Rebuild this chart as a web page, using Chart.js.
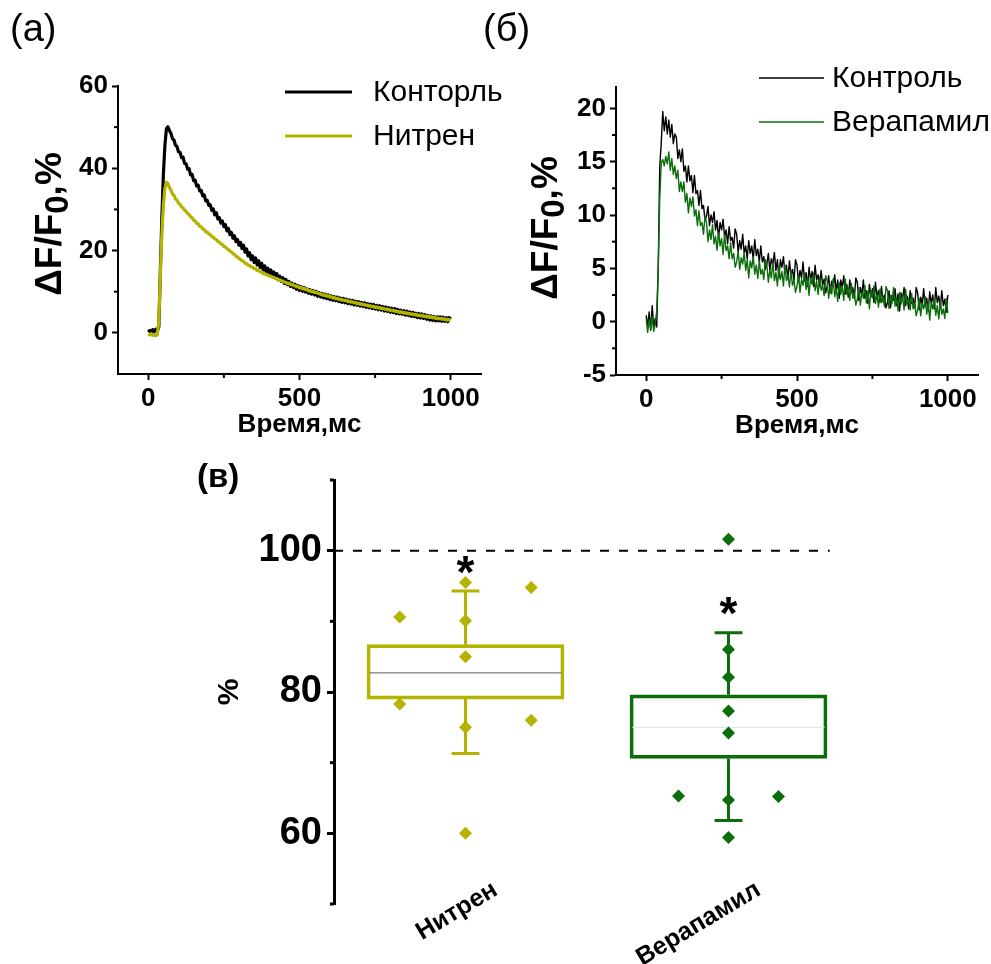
<!DOCTYPE html>
<html lang="ru">
<head>
<meta charset="utf-8">
<title>ΔF/F0: Нитрен, Верапамил</title>
<script src="https://cdn.jsdelivr.net/npm/chart.js@4.4.1/dist/chart.umd.min.js"></script>
<style>
  html, body { margin: 0; padding: 0; background: #fff; }
  #page { position: relative; width: 991px; height: 964px; overflow: hidden;
          font-family: 'Liberation Sans', Arial, Helvetica, sans-serif; }
  #page canvas { position: absolute; }
  .tag { position: absolute; color: #000; line-height: 1; white-space: nowrap; }
</style>
</head>
<body>
<div id="page">
  <canvas id="panelA" width="560" height="450" style="left:0; top:0;"></canvas>
  <canvas id="panelB" width="496" height="450" style="left:495px; top:0;"></canvas>
  <canvas id="panelC" width="991" height="514" style="left:0; top:450px;"></canvas>
  <div class="tag" style="left:10px; top:9px; font-size:38px;">(а)</div>
  <div class="tag" style="left:483px; top:9px; font-size:38px;">(б)</div>
  <div class="tag" style="left:197px; top:459px; font-size:33px; font-weight:bold;">(в)</div>
</div>
<script>
const FONT = "'Liberation Sans', Arial, Helvetica, sans-serif";
Chart.defaults.font.family = FONT;
Chart.defaults.color = '#000';

// ---- Calcium transients, one sample every 5 ms from 0 to 1000 ms ----
const SAMPLE_MS = 5;

const controlA = [
  0.2, 0.6, 0.1, 0.8, 0.3, 0.9, 0.4, 1.5, 15.0, 28.0, 38.5, 45.5, 49.6, 50.1, 49.2, 48.5, 47.2, 46.9, 45.6, 45.3,
  44.0, 43.9, 42.6, 42.7, 41.2, 41.1, 39.8, 39.9, 38.4, 38.5, 37.0, 37.1, 35.7, 35.9, 34.5, 34.6, 33.3, 33.5, 32.1, 32.2,
  31.0, 31.1, 29.8, 30.1, 28.7, 29.2, 27.7, 28.0, 26.7, 27.2, 25.8, 26.3, 24.8, 25.4, 23.9, 24.4, 23.0, 23.6, 22.2, 22.7,
  21.3, 22.0, 20.5, 21.3, 19.6, 20.4, 18.7, 19.5, 17.8, 18.7, 17.1, 18.2, 16.5, 17.5, 15.9, 16.9, 15.3, 16.3, 14.8, 15.7,
  14.4, 15.3, 13.9, 14.8, 13.3, 14.4, 12.9, 13.8, 12.5, 13.4, 12.0, 13.0, 11.7, 12.5, 11.3, 12.1, 11.0, 11.8, 10.6, 11.5,
  10.3, 11.2, 10.1, 11.0, 9.9, 10.7, 9.6, 10.5, 9.4, 10.3, 9.2, 10.1, 8.9, 9.8, 8.7, 9.6, 8.5, 9.4, 8.3, 9.2,
  8.1, 9.0, 7.9, 8.8, 7.8, 8.7, 7.6, 8.5, 7.4, 8.4, 7.3, 8.2, 7.1, 8.0, 7.0, 7.9, 6.8, 7.7, 6.7, 7.6,
  6.5, 7.4, 6.4, 7.3, 6.2, 7.1, 6.1, 7.0, 5.9, 6.9, 5.8, 6.7, 5.6, 6.6, 5.5, 6.4, 5.3, 6.3, 5.2, 6.1,
  5.0, 6.0, 4.9, 5.9, 4.7, 5.7, 4.6, 5.5, 4.5, 5.4, 4.3, 5.3, 4.2, 5.1, 4.0, 5.0, 3.9, 4.8, 3.7, 4.7,
  3.6, 4.6, 3.5, 4.4, 3.3, 4.2, 3.1, 4.1, 3.0, 4.0, 2.9, 3.9, 2.9, 3.9, 2.8, 3.8, 2.8, 3.7, 2.7, 3.7,
  3.3
];

const nitrenA = [
  -0.3, -0.5, -0.2, -0.6, -0.4, -0.7, -0.5, 3.0, 14.0, 24.0, 31.0, 35.2, 36.6, 36.3, 35.3, 34.7, 33.8, 33.4, 32.6, 32.2,
  31.5, 31.3, 30.6, 30.4, 29.8, 29.6, 29.0, 28.8, 28.2, 28.0, 27.4, 27.2, 26.6, 26.5, 25.9, 25.8, 25.3, 25.1, 24.6, 24.5,
  24.0, 23.9, 23.4, 23.3, 22.8, 22.7, 22.2, 22.1, 21.6, 21.5, 21.0, 20.9, 20.4, 20.3, 19.8, 19.7, 19.2, 19.1, 18.6, 18.5,
  18.0, 17.9, 17.5, 17.4, 16.9, 16.9, 16.4, 16.4, 16.0, 16.0, 15.6, 15.6, 15.2, 15.2, 14.8, 14.8, 14.4, 14.4, 14.1, 14.1,
  13.8, 13.8, 13.5, 13.5, 13.2, 13.2, 12.9, 12.9, 12.6, 12.6, 12.3, 12.3, 12.0, 12.1, 11.7, 11.8, 11.5, 11.5, 11.2, 11.3,
  10.9, 11.0, 10.7, 10.8, 10.5, 10.6, 10.2, 10.3, 10.0, 10.1, 9.8, 9.9, 9.6, 9.6, 9.3, 9.4, 9.1, 9.2, 8.9, 9.0,
  8.7, 8.8, 8.5, 8.6, 8.3, 8.4, 8.1, 8.2, 7.95, 8.05, 7.8, 7.9, 7.6, 7.7, 7.45, 7.55, 7.3, 7.4, 7.1, 7.25,
  6.95, 7.1, 6.8, 6.9, 6.65, 6.75, 6.5, 6.6, 6.35, 6.45, 6.2, 6.3, 6.05, 6.15, 5.9, 6.0, 5.75, 5.85, 5.6, 5.7,
  5.45, 5.55, 5.3, 5.4, 5.15, 5.25, 5.0, 5.15, 4.85, 5.0, 4.75, 4.85, 4.6, 4.75, 4.5, 4.6, 4.35, 4.5, 4.2, 4.35,
  4.1, 4.25, 4.0, 4.1, 3.85, 4.0, 3.75, 3.9, 3.65, 3.8, 3.5, 3.65, 3.4, 3.55, 3.3, 3.45, 3.2, 3.35, 3.1, 3.25,
  3.1
];

const controlB = [
  0.6, -0.4, 0.9, -0.8, 1.5, -0.6, 0.3, -0.5, 5.0, 14.5, 16.8, 19.7, 17.9, 19.2, 17.6, 18.9, 17.3, 18.5, 16.7, 17.6,
  17.3, 15.3, 16.1, 15.0, 16.2, 14.1, 14.6, 13.1, 14.6, 13.2, 13.7, 12.1, 13.7, 12.0, 12.3, 10.9, 12.3, 10.6, 10.9, 9.5,
  9.9, 10.8, 9.0, 10.0, 9.3, 10.3, 8.6, 9.5, 7.8, 9.3, 8.6, 9.6, 7.9, 8.6, 7.3, 8.9, 7.6, 7.9, 6.9, 8.7,
  8.2, 6.5, 7.6, 6.8, 8.2, 6.4, 7.1, 5.9, 7.6, 6.4, 7.1, 5.8, 7.7, 6.2, 6.8, 5.6, 7.1, 5.6, 6.1, 4.9,
  5.4, 6.4, 4.8, 5.9, 5.3, 6.5, 4.8, 5.8, 4.1, 5.8, 5.1, 6.1, 4.5, 5.3, 4.0, 5.7, 4.4, 4.9, 3.9, 5.8,
  5.3, 3.7, 4.8, 4.1, 5.6, 3.8, 4.6, 3.3, 5.1, 3.9, 4.7, 3.3, 5.3, 3.9, 4.4, 3.3, 4.8, 3.4, 4.0, 2.7,
  3.3, 4.3, 2.7, 3.8, 3.3, 4.4, 2.8, 3.9, 2.2, 3.9, 3.2, 4.3, 2.6, 3.5, 2.3, 3.9, 2.7, 3.2, 2.2, 4.1,
  3.7, 2.0, 3.2, 2.5, 3.9, 2.2, 2.9, 1.7, 3.5, 2.3, 3.1, 1.8, 3.7, 2.3, 2.9, 1.8, 3.3, 1.9, 2.5, 1.3,
  1.8, 2.9, 1.3, 2.5, 2.0, 3.1, 1.5, 2.6, 1.0, 2.7, 2.1, 3.2, 1.5, 2.4, 1.2, 2.9, 1.7, 2.2, 1.3, 3.2,
  2.7, 1.1, 2.3, 1.6, 3.1, 1.4, 2.2, 1.0, 2.8, 1.7, 2.5, 1.2, 3.2, 1.8, 2.4, 1.3, 2.9, 1.5, 2.1, 0.9,
  2.5
];

const verapamilB = [
  0.3, -1.0, 0.2, -0.7, 0.5, -0.9, -0.3, 1.0, 5.0, 11.5, 14.9, 15.2, 14.6, 15.5, 14.8, 15.9, 14.2, 15.3, 13.8, 14.6,
  13.4, 14.2, 12.2, 13.1, 12.2, 13.1, 11.2, 12.0, 10.2, 11.6, 10.8, 11.7, 9.9, 10.5, 9.0, 10.4, 9.0, 9.3, 8.2, 9.9,
  9.3, 7.5, 8.6, 7.7, 9.1, 7.3, 8.0, 6.7, 8.35, 7.1, 7.8, 6.3, 8.2, 6.65, 7.1, 5.9, 7.4, 5.9, 6.4, 5.1,
  5.6, 6.6, 4.9, 6.0, 5.4, 6.5, 4.8, 5.8, 4.1, 5.7, 5.05, 6.1, 4.45, 5.3, 4.05, 5.7, 4.45, 4.9, 3.95, 5.8,
  5.35, 3.7, 4.85, 4.1, 5.6, 3.85, 4.6, 3.35, 5.1, 3.95, 4.7, 3.35, 5.3, 3.85, 4.4, 3.25, 4.8, 3.4, 3.95, 2.75,
  3.3, 4.4, 2.75, 3.95, 3.4, 4.6, 3.0, 4.05, 2.45, 4.1, 3.5, 4.55, 2.9, 3.8, 2.55, 4.2, 2.95, 3.4, 2.45, 4.3,
  3.85, 2.2, 3.35, 2.6, 4.05, 2.35, 3.1, 1.9, 3.65, 2.55, 3.3, 2.0, 4.0, 2.55, 3.15, 2.0, 3.6, 2.2, 2.75, 1.55,
  2.1, 3.2, 1.55, 2.75, 2.2, 3.4, 1.75, 2.85, 1.2, 2.9, 2.25, 3.35, 1.7, 2.6, 1.35, 3.05, 1.8, 2.3, 1.4, 3.3,
  2.9, 1.25, 2.45, 1.7, 3.2, 1.45, 2.2, 1.0, 2.75, 1.65, 2.4, 1.1, 3.05, 1.65, 2.2, 1.1, 2.65, 1.2, 1.8, 0.55,
  1.1, 2.2, 0.55, 1.7, 1.2, 2.35, 0.7, 1.8, 0.15, 1.8, 1.2, 2.25, 0.6, 1.5, 0.25, 1.95, 0.7, 1.2, 0.3, 2.2,
  0.8
];

// axis ticks
const timeTicks = [0, 500, 1000];
const timeMinorTicks = [250, 750];
const ticksA = [0, 20, 40, 60];
const minorTicksA = [10, 30, 50];
const ticksB = [-5, 0, 5, 10, 15, 20];
const minorTicksB = [-2.5, 2.5, 7.5, 12.5, 17.5];
const ticksC = [60, 80, 100];
const minorTicksC = [50, 70, 90, 110];

// ---- Relative amplitude, % of control ----
const groupNames = ['Нитрен', 'Верапамил'];
const nitrenValues = [95.5, 94.8, 90.6, 90.1, 85.0, 78.3, 76.0, 75.0, 60.0];
const nitrenLane   = [0, 1, -1, 0, 0, -1, 1, 0, 0];
const verapamilValues = [101.6, 86.0, 82.1, 77.3, 74.2, 65.3, 65.2, 64.7, 59.4];
const verapamilLane   = [0, 0, 0, 0, 0, -1, 1, 0, 0];
const boxLow      = [79.0, 70.6];
const boxHigh     = [86.7, 79.6];
const boxMedian   = [82.7, 75.0];
const whiskerLow  = [71.3, 61.8];
const whiskerHigh = [94.3, 88.4];
const significant = [true, true];
const controlLevel = 100;

// ---- colours and sizes ----
const OLIVE = '#b3b300';
const GREEN = '#0b6e0b';
const groupColors = [OLIVE, GREEN];
const laneSpread = [0.25, 0.19];     // horizontal spread of the dots, x units
const BOX_HALF = 0.375;              // half box width, x units
const CAP_HALF = 0.053;              // half whisker cap width, x units
const REF_LINE_END = 2.385;

const series = ys => ys.map((y, i) => ({ x: i * SAMPLE_MS, y }));
const setTicks = values => scale => { scale.ticks = values.map(v => ({ value: v })); };

// short minor tick marks on the outer side of an axis
const minorTicks = {
  id: 'minorTicks',
  afterDraw(chart, _args, opts) {
    const ctx = chart.ctx;
    ctx.save();
    ctx.strokeStyle = '#000';
    (opts.axes || []).forEach(spec => {
      const s = chart.scales[spec.id];
      ctx.lineWidth = spec.width;
      spec.values.forEach(v => {
        const p = s.getPixelForValue(v);
        ctx.beginPath();
        if (s.isHorizontal()) { ctx.moveTo(p, s.top); ctx.lineTo(p, s.top + spec.length); }
        else { ctx.moveTo(s.right, p); ctx.lineTo(s.right - spec.length, p); }
        ctx.stroke();
      });
    });
    ctx.restore();
  }
};

// vertical ΔF/F0 title with a lowered "0"
const fluorescenceTitle = {
  id: 'fluorescenceTitle',
  afterDraw(chart, _args, o) {
    const ctx = chart.ctx;
    const main = `bold ${o.size}px ${FONT}`;
    const sub = `bold ${Math.round(o.size * 0.88)}px ${FONT}`;
    const parts = [
      { text: 'ΔF/F', font: main, dy: 0 },
      { text: '0', font: sub, dy: o.size * 0.22 },
      { text: ',%', font: main, dy: 0 }
    ];
    ctx.save();
    let total = 0;
    parts.forEach(p => { ctx.font = p.font; p.w = ctx.measureText(p.text).width; total += p.w; });
    ctx.translate(o.x, o.y);
    ctx.rotate(-Math.PI / 2);
    ctx.textBaseline = 'middle';
    ctx.fillStyle = '#000';
    let x = -total / 2;
    parts.forEach(p => { ctx.font = p.font; ctx.fillText(p.text, x, p.dy); x += p.w; });
    ctx.restore();
  }
};

// line-sample legend
const lineLegend = {
  id: 'lineLegend',
  afterDraw(chart, _args, o) {
    const ctx = chart.ctx;
    ctx.save();
    chart.data.datasets.forEach((ds, i) => {
      const y = o.y + i * o.gap;
      ctx.strokeStyle = ds.borderColor;
      ctx.lineWidth = o.lineWidth;
      ctx.beginPath(); ctx.moveTo(o.x1, y); ctx.lineTo(o.x2, y); ctx.stroke();
      ctx.fillStyle = '#000';
      ctx.font = `${o.size}px ${FONT}`;
      ctx.textBaseline = 'middle';
      ctx.fillText(ds.label, o.textX, y + 1);
    });
    ctx.restore();
  }
};

// asterisks above significant groups
const significance = {
  id: 'significance',
  afterDatasetsDraw(chart, _args, o) {
    const { ctx, scales: { x, y } } = chart;
    ctx.save();
    ctx.font = `bold ${o.size}px ${FONT}`;
    ctx.textAlign = 'center';
    ctx.textBaseline = 'alphabetic';
    ctx.fillStyle = '#000';
    groupNames.forEach((_, i) => {
      if (!significant[i]) return;
      const px = x.getPixelForValue(i + 1);
      const py = y.getPixelForValue(whiskerHigh[i]) - o.gap;
      ctx.fillText('*', px, py + o.size * 0.56);
    });
    ctx.restore();
  }
};

// slanted group names under the boxes
const groupLabels = {
  id: 'groupLabels',
  afterDraw(chart, _args, o) {
    const { ctx, scales: { x } } = chart;
    ctx.save();
    ctx.font = `bold ${o.size}px ${FONT}`;
    ctx.textAlign = 'right';
    ctx.textBaseline = 'middle';
    ctx.fillStyle = '#000';
    groupNames.forEach((name, i) => {
      ctx.save();
      ctx.translate(x.getPixelForValue(i + 1) + o.dx, x.top + o.dy);
      ctx.rotate(-o.angle * Math.PI / 180);
      ctx.fillText(name, 0, 0);
      ctx.restore();
    });
    ctx.restore();
  }
};

function traceOptions(cfg) {
  return {
    responsive: false,
    animation: false,
    events: [],
    layout: { padding: cfg.padding, autoPadding: false },
    elements: { point: { radius: 0 }, line: { tension: 0, borderJoinStyle: 'round' } },
    plugins: {
      legend: { display: false },
      tooltip: { enabled: false },
      minorTicks: { axes: [
        { id: 'x', values: timeMinorTicks, length: 4, width: 2 },
        { id: 'y', values: cfg.minor, length: 4, width: 2 }
      ] },
      fluorescenceTitle: cfg.title,
      lineLegend: cfg.legend
    },
    scales: {
      x: {
        type: 'linear', min: -100, max: 1100,
        afterBuildTicks: setTicks(timeTicks),
        afterFit: s => { s.height = 66; },
        grid: { display: true, drawOnChartArea: false, tickLength: 6, tickWidth: 2, tickColor: '#000' },
        border: { display: true, color: '#000', width: 2 },
        ticks: { color: '#000', padding: 3, font: { size: 26, weight: 'bold' }, maxRotation: 0, callback: v => String(v) },
        title: { display: true, text: 'Время,мс', color: '#000', padding: 0, font: { size: 26, weight: 'bold' } }
      },
      y: {
        type: 'linear', min: cfg.yMin, max: cfg.yMax,
        afterBuildTicks: setTicks(cfg.ticks),
        afterFit: s => { s.width = cfg.yWidth; },
        grid: { display: true, drawOnChartArea: false, tickLength: 6, tickWidth: 2, tickColor: '#000' },
        border: { display: true, color: '#000', width: 2 },
        ticks: { color: '#000', padding: 4, font: { size: 26, weight: 'bold' }, callback: v => String(v) }
      }
    }
  };
}

// (а) control vs nitrendipine
new Chart(document.getElementById('panelA'), {
  type: 'line',
  data: { datasets: [
    { label: 'Конторль', data: series(controlA), borderColor: '#000', borderWidth: 3.2, order: 1 },
    { label: 'Нитрен', data: series(nitrenA), borderColor: OLIVE, borderWidth: 3.2, order: 0 }
  ] },
  options: traceOptions({
    padding: { left: 0, top: 86, right: 79, bottom: 10 },
    yWidth: 118, yMin: -10, yMax: 60, ticks: ticksA, minor: minorTicksA,
    title: { x: 51, y: 224, size: 37 },
    legend: { x1: 285, x2: 352, y: 92, gap: 44, textX: 373, size: 30, lineWidth: 3 }
  }),
  plugins: [minorTicks, fluorescenceTitle, lineLegend]
});

// (б) control vs verapamil
new Chart(document.getElementById('panelB'), {
  type: 'line',
  data: { datasets: [
    { label: 'Контроль', data: series(controlB), borderColor: '#000', borderWidth: 1.4, order: 1 },
    { label: 'Верапамил', data: series(verapamilB), borderColor: GREEN, borderWidth: 1.4, order: 0 }
  ] },
  options: traceOptions({
    padding: { left: 0, top: 87, right: 13, bottom: 9 },
    yWidth: 121, yMin: -5, yMax: 22, ticks: ticksB, minor: minorTicksB,
    title: { x: 52, y: 228, size: 37 },
    legend: { x1: 264, x2: 329, y: 78, gap: 44, textX: 337, size: 30, lineWidth: 1.5 }
  }),
  plugins: [minorTicks, fluorescenceTitle, lineLegend]
});

// (в) box plots
const groupValues = [nitrenValues, verapamilValues];
const groupLanes = [nitrenLane, verapamilLane];
const datasetsC = [];

datasetsC.push({
  type: 'line', label: 'control', order: 4,
  data: [{ x: 0.5, y: controlLevel }, { x: REF_LINE_END, y: controlLevel }],
  borderColor: '#000', borderWidth: 2, borderDash: [9, 10], pointRadius: 0
});

datasetsC.push({
  type: 'bar', label: 'IQR', order: 3,
  data: groupNames.map((_, i) => ({ x: i + 1, y: [boxLow[i], boxHigh[i]] })),
  backgroundColor: 'rgba(255,255,255,0)',
  borderColor: groupColors,
  borderWidth: 3,
  borderSkipped: false,
  barThickness: 197
});

groupNames.forEach((name, i) => {
  const g = i + 1;
  datasetsC.push({
    type: 'line', label: name + ' median', order: 2,
    data: [{ x: g - BOX_HALF + 0.01, y: boxMedian[i] }, { x: g + BOX_HALF - 0.01, y: boxMedian[i] }],
    borderColor: i === 0 ? '#7a7a7a' : '#e6e6e6', borderWidth: 1.3, pointRadius: 0
  });
  datasetsC.push({
    type: 'line', label: name + ' whiskers', order: 2, spanGaps: false,
    data: [
      { x: g - CAP_HALF, y: whiskerHigh[i] }, { x: g + CAP_HALF, y: whiskerHigh[i] }, { x: g, y: null },
      { x: g, y: whiskerHigh[i] }, { x: g, y: boxHigh[i] }, { x: g, y: null },
      { x: g, y: boxLow[i] }, { x: g, y: whiskerLow[i] }, { x: g, y: null },
      { x: g - CAP_HALF, y: whiskerLow[i] }, { x: g + CAP_HALF, y: whiskerLow[i] }
    ],
    borderColor: groupColors[i], borderWidth: 3, pointRadius: 0, borderCapStyle: 'butt'
  });
  datasetsC.push({
    type: 'line', label: name, order: 0, showLine: false,
    data: groupValues[i].map((v, k) => ({ x: g + groupLanes[i][k] * laneSpread[i], y: v })),
    pointStyle: 'rectRot', pointRadius: 6.5, pointBorderWidth: 0,
    pointBackgroundColor: groupColors[i], pointBorderColor: groupColors[i]
  });
});

new Chart(document.getElementById('panelC'), {
  type: 'line',
  data: { datasets: datasetsC },
  options: {
    responsive: false,
    animation: false,
    events: [],
    layout: { padding: { left: 0, top: 30, right: 131, bottom: 0 }, autoPadding: false },
    plugins: {
      legend: { display: false },
      tooltip: { enabled: false },
      minorTicks: { axes: [{ id: 'y', values: minorTicksC, length: 4, width: 3 }] },
      significance: { size: 46, gap: 29 },
      groupLabels: { size: 25, angle: 31, dx: 30, dy: -16 }
    },
    scales: {
      x: {
        type: 'linear', min: 0.5, max: 2.5, offset: false,
        afterBuildTicks: setTicks([1, 2]),
        afterFit: s => { s.height = 60; },
        grid: { display: false },
        border: { display: false },
        ticks: { display: false }
      },
      y: {
        type: 'linear', min: 50, max: 110,
        afterBuildTicks: setTicks(ticksC),
        afterFit: s => { s.width = 334; },
        grid: { display: true, drawOnChartArea: false, tickLength: 7, tickWidth: 3, tickColor: '#000' },
        border: { display: true, color: '#000', width: 3 },
        ticks: { color: '#000', padding: 5, font: { size: 38, weight: 'bold' }, callback: v => String(v) },
        title: { display: true, text: '%', color: '#000', font: { size: 30, weight: 'bold' }, padding: { top: 212, bottom: 0 } }
      }
    }
  },
  plugins: [minorTicks, significance, groupLabels]
});
</script>
</body>
</html>
